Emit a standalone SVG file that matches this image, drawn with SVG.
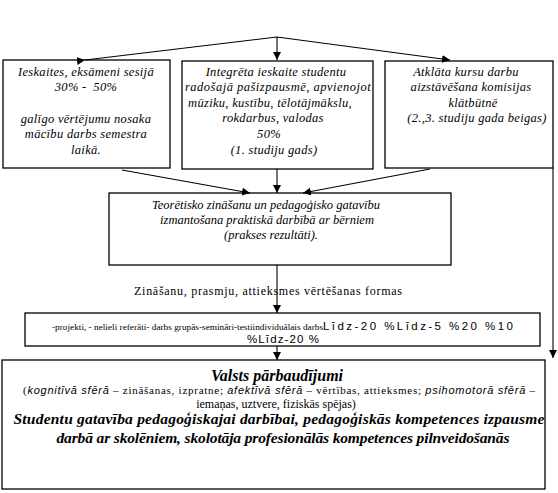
<svg xmlns="http://www.w3.org/2000/svg" width="558" height="493" viewBox="0 0 558 493">
<style>
.box{fill:#fff;stroke:#000;stroke-width:1.3}
.ln{fill:none;stroke:#000;stroke-width:1.1}
.it{font-family:"Liberation Serif",serif;font-style:italic;font-size:12.5px;fill:#000;text-anchor:middle;letter-spacing:0.3px}
.rg{font-family:"Liberation Serif",serif;font-size:12px;fill:#000;text-anchor:middle}
.sm{font-family:"Liberation Serif",serif;font-size:8.5px;fill:#000}
.sa{font-family:"Liberation Sans",sans-serif;font-size:11.5px;fill:#000}
.bi{font-family:"Liberation Serif",serif;font-style:italic;font-weight:bold;fill:#000;text-anchor:middle}
</style>
<defs>
<marker id="ar" viewBox="0 0 10 10" refX="10" refY="5" markerWidth="8" markerHeight="8" markerUnits="userSpaceOnUse" orient="auto">
<path d="M0,0 L10,5 L0,10 z" fill="#000"/>
</marker>
</defs>
<rect width="558" height="493" fill="#fff"/>
<g id="n1">
<rect class="box" x="3" y="60" width="167" height="108"/>
<text class="it" x="86" y="76">Ieskaites, eksāmeni sesijā</text>
<text class="it" x="86" y="91" xml:space="preserve">30% -  50%</text>
<text class="it" x="86" y="123">galīgo vērtējumu nosaka</text>
<text class="it" x="86" y="138">mācību darbs semestra</text>
<text class="it" x="86" y="154">laikā.</text>
</g>
<g id="n2">
<rect class="box" x="182" y="61" width="191" height="108"/>
<text class="it" x="276" y="76">Integrēta ieskaite studentu</text>
<text class="it" x="278" y="91" textLength="186" lengthAdjust="spacing">radošajā pašizpausmē, apvienojot</text>
<text class="it" x="270" y="107">mūziku, kustību, tēlotājmākslu,</text>
<text class="it" x="273" y="122">rokdarbus, valodas</text>
<text class="it" x="269" y="138">50%</text>
<text class="it" x="274" y="154">(1. studiju gads)</text>
</g>
<g id="n3">
<rect class="box" x="385" y="61" width="168" height="107"/>
<text class="it" x="466" y="76">Atklāta kursu darbu</text>
<text class="it" x="471" y="91">aizstāvēšana komisijas</text>
<text class="it" x="473" y="107">klātbūtnē</text>
<text class="it" x="477" y="122">(2.,3. studiju gada beigas)</text>
</g>
<g id="n4">
<rect class="box" x="109" y="193" width="342" height="72"/>
<text class="it" x="266" y="209" style="letter-spacing:0">Teorētisko zināšanu un pedagoģisko gatavību</text>
<text class="it" x="267" y="224" style="letter-spacing:0">izmantošana praktiskā darbībā ar bērniem</text>
<text class="it" x="271" y="239" style="letter-spacing:0">(prakses rezultāti).</text>
</g>
<g id="n5">
<rect class="box" x="25" y="313" width="515" height="33"/>
<text y="330"><tspan class="sm" x="52" textLength="271" lengthAdjust="spacingAndGlyphs">-projekti, - nelieli referāti- darbs grupās-semināri-testiindividuālais darbs</tspan><tspan class="sa" textLength="190" lengthAdjust="spacing">Līdz-20 %Līdz-5 %20 %10</tspan></text>
<text class="sa" x="283" y="343" text-anchor="middle" textLength="72" lengthAdjust="spacing">%Līdz-20 %</text>
</g>
<g id="n6">
<rect class="box" x="2" y="360" width="543" height="129"/>
<text class="bi" x="277" y="381" font-size="16px">Valsts pārbaudījumi</text>
<text font-family="Liberation Serif, serif" font-size="11px" x="23" y="394" textLength="512" lengthAdjust="spacing">(<tspan font-family="Liberation Sans, sans-serif" font-style="italic">kognitīvā sfērā</tspan> – zināšanas, izpratne; <tspan font-family="Liberation Sans, sans-serif" font-style="italic">afektīvā sfērā</tspan> – vērtības, attieksmes; <tspan font-family="Liberation Sans, sans-serif" font-style="italic">psihomotorā sfērā</tspan> –</text>
<text class="rg" x="276" y="408" font-size="11px">iemaņas, uztvere, fiziskās spējas)</text>
<text class="bi" x="279" y="424" font-size="15.5px" textLength="531" lengthAdjust="spacing">Studentu gatavība pedagoģiskajai darbībai, pedagoģiskās kompetences izpausme</text>
<text class="bi" x="283" y="443" font-size="15.5px" textLength="453" lengthAdjust="spacing">darbā ar skolēniem, skolotāja profesionālās kompetences pilnveidošanās</text>
</g>
<text class="rg" x="268" y="295" textLength="268" lengthAdjust="spacing">Zināšanu, prasmju, attieksmes vērtēšanas formas</text>
<g id="connectors">
<polyline class="ln" points="85,60 277,37 450,60" marker-start="url(#ar)" marker-end="url(#ar)"/>
<line class="ln" x1="277" y1="37" x2="277" y2="60" marker-end="url(#ar)"/>
<line class="ln" x1="122" y1="170" x2="250" y2="193" marker-end="url(#ar)"/>
<line class="ln" x1="277" y1="169" x2="277" y2="193" marker-end="url(#ar)"/>
<line class="ln" x1="430" y1="169" x2="303" y2="193" marker-end="url(#ar)"/>
<line class="ln" x1="553" y1="168" x2="553" y2="358" marker-end="url(#ar)"/>
<line class="ln" x1="277" y1="265" x2="277" y2="313" marker-end="url(#ar)"/>
<line class="ln" x1="277" y1="346" x2="277" y2="360" marker-end="url(#ar)"/>
</g>
</svg>
